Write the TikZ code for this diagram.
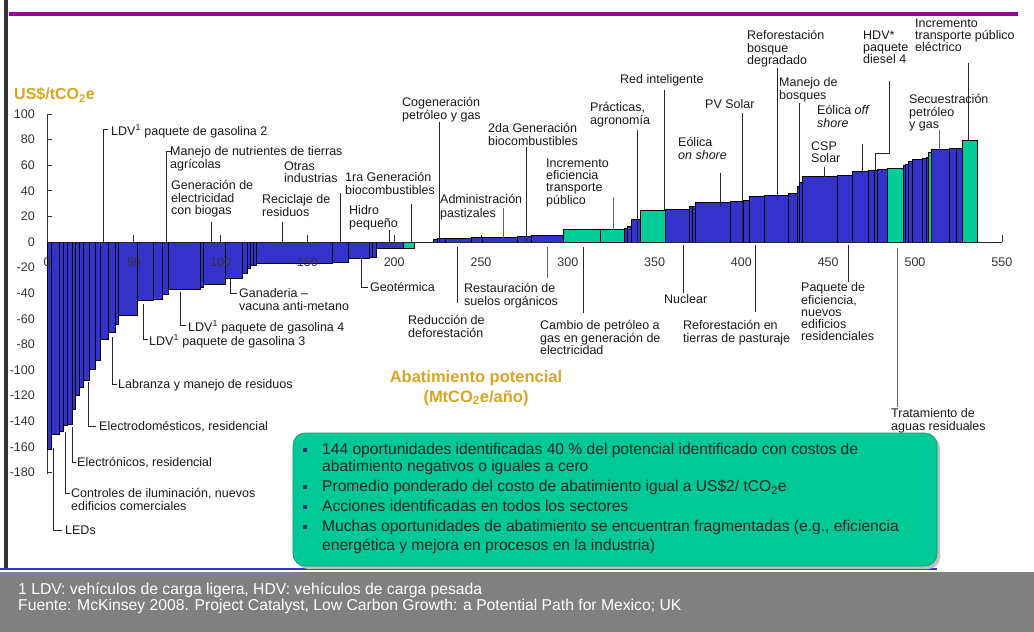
\documentclass[tikz,border=0pt]{standalone}
\usepackage{fontspec}
\setmainfont{Liberation Sans}
\definecolor{barblue}{RGB}{51,51,204}
\definecolor{bargreen}{RGB}{0,204,153}
\definecolor{boxgreen}{RGB}{0,200,150}
\definecolor{goldtxt}{RGB}{218,165,32}
\definecolor{topline}{RGB}{153,0,153}
\definecolor{footgray}{RGB}{128,128,128}
\definecolor{bulletblue}{RGB}{31,56,100}
\newcommand\lblfnt{\fontsize{12.5}{12.3}\selectfont}
\newcommand\boxfnt{\fontsize{15.6}{17}\selectfont}
\tikzset{
  lead/.style={draw=black!85, line width=0.9pt},
  lbl/.style={anchor=north west, inner sep=0pt, align=left, font=\lblfnt, text=black!90, execute at begin node=\strut},
  axl/.style={inner sep=0pt, font=\fontsize{12.5}{14}\selectfont, text=black!80},
  goldt/.style={text=goldtxt, font=\fontsize{16.5}{20}\selectfont\bfseries, inner sep=0pt},
  bul/.style={fill=bulletblue},
  boxtxt/.style={anchor=north west, inner sep=0pt, align=left, font=\boxfnt, text=black!85, execute at begin node=\strut},
  foot/.style={anchor=north west, inner sep=0pt, align=left, font=\fontsize{15.7}{16}\selectfont, text=white, execute at begin node=\strut},
}
\begin{document}
\begin{tikzpicture}[x=1pt,y=-1pt]
\useasboundingbox (0,0) rectangle (1034,632);
% frame lines
\draw[black!80, line width=3.5pt] (6,0) -- (6,568);
\draw[topline, line width=4pt] (9,14) -- (1018,14);
% footer
\fill[footgray] (0,572) rectangle (1034,632);
\draw[barblue, line width=2pt] (0,569) -- (937,569);
\node[foot] (f1) at (18,583) {1 LDV: vehículos de carga ligera, HDV: vehículos de carga pesada\\Fuente: McKinsey 2008. Project Catalyst, Low Carbon Growth: a Potential Path for Mexico; UK};
% axis ticks
\foreach \v in {50,100,...,500} \draw[black!80, line width=0.8pt] ({47+1.736*\v},242) -- ({47+1.736*\v},235);
\draw[black!80, line width=0.8pt] (1002,242) -- (1002,235);
\foreach \v in {100,80,...,-180} \draw[black!80, line width=0.8pt] (47,{242-1.28*\v}) -- (52,{242-1.28*\v});
\draw[black!80, line width=0.9pt] (47,114) -- (47,474);
% bars
\foreach \a/\b/\c/\s in {
47/51/449/barblue, 51/59/434/barblue, 59/63/431/barblue, 63/67/425/barblue, 67/72/424/barblue,
72/75/409/barblue, 75/79/395/barblue, 79/83/387/barblue, 83/89/380/barblue, 89/95/369/barblue,
95/100/360/barblue, 100/108/339/barblue, 108/115/332/barblue, 115/118/324/barblue, 118/137/315/barblue,
137/153/300/barblue, 153/162/299/barblue, 162/168/294/barblue, 168/200/289/barblue, 200/203/287/barblue,
203/225/284/barblue, 225/242/278/barblue, 242/247/273/barblue, 247/250/268/barblue, 250/253/265/barblue,
253/256/265/barblue, 256/332/263/barblue, 332/348/262/barblue, 348/369/258/barblue, 369/372/257/barblue,
372/376/257/barblue, 376/403/248/barblue, 403/414/248/bargreen,
433/437/239.5/barblue, 437/445/238.5/barblue, 445/471/238.5/barblue, 471/482/237.5/barblue,
482/517/237.5/barblue, 517/531/236.5/barblue, 531/563/235.5/barblue, 563/600/229.5/bargreen,
600/624/229.5/bargreen, 624/627/228.3/barblue, 627/631/226.7/barblue, 631/640/219/barblue,
640/665/210.7/bargreen, 665/689/209.3/barblue, 689/692/206.5/barblue, 692/695/206/barblue,
695/730/202.5/barblue, 730/743/201/barblue, 743/749/200/barblue, 749/764/196/barblue,
764/788/195.7/barblue, 788/797/193/barblue, 797/799/186/barblue, 799/802/182/barblue,
802/837/176.7/barblue, 837/852/175.7/barblue, 852/868/171.8/barblue, 868/874/170.7/barblue,
874/877/170/barblue, 877/887/169.5/barblue, 887/903/168.5/bargreen, 903/905/165.5/barblue,
905/908/164/barblue, 908/912/161/barblue, 912/922/159.2/barblue, 922/926/158/barblue,
926/928/157/barblue, 928/931/152.5/bargreen, 931/949/149.3/barblue, 949/956/148.3/barblue,
956/962/148.3/barblue, 962/977/140/bargreen}
  \filldraw[fill=\s, draw=black, line width=0.7pt] (\a,242) rectangle (\b,\c);
\draw[black!85, line width=0.9pt] (47,242) -- (1002,242);
% axis labels
\foreach \v in {100,80,...,-180} \node[axl, anchor=east] (yl\v) at (35,{242-1.28*\v}) {\v};
\foreach \v in {0,50,...,550} \node[axl] (xl\v) at ({47+1.736*\v},262) {\v};
\node[goldt, anchor=west, font=\fontsize{16}{20}\selectfont\bfseries] (ytitle) at (14,95) {US\$/tCO\textsubscript{2}e};
\node[goldt, align=center, font=\fontsize{16.5}{20}\selectfont\bfseries] (xtitle) at (476,388) {Abatimiento potencial\\(MtCO\textsubscript{2}e/año)};
% leaders top
\draw[lead] (108,129) -- (103,129) -- (103,243);
\draw[lead] (171,151) -- (166,151) -- (166,243);
\draw[lead] (211,222) -- (211,243);
\draw[lead] (340,193) -- (340,243);
\draw[lead] (282,222) -- (282,243);
\draw[lead] (411,204) -- (411,243);
\draw[lead] (389,230) -- (389,243);
\draw[lead] (439,122) -- (439,243);
\draw[lead, draw=black!60] (503,208) -- (503,238);
\draw[lead] (526,147) -- (526,243);
\draw[lead, draw=black!60] (613,197) -- (613,230);
\draw[lead] (637,130) -- (637,243);
\draw[lead] (664,90) -- (664,211);
\draw[lead] (720,173) -- (720,207);
\draw[lead] (742,113) -- (742,243);
\draw[lead] (777,68) -- (777,200);
\draw[lead] (799,103) -- (799,183);
\draw[lead] (862,144) -- (862,175);
\draw[lead] (824,167) -- (824,177);
\draw[lead] (889,81) -- (889,153) -- (875,153) -- (875,170);
\draw[lead] (968,63) -- (968,140);
\draw[lead, draw=black!60] (939,130) -- (939,150);
% leaders bottom
\draw[lead] (230,278) -- (230,293) -- (237,293);
\draw[lead] (180,292) -- (180,325) -- (186,325);
\draw[lead] (143,304) -- (143,339) -- (148,339);
\draw[lead] (112,337) -- (112,384) -- (117,384);
\draw[lead] (88,382) -- (88,426) -- (96,426);
\draw[lead] (72,427) -- (72,462) -- (76,462);
\draw[lead] (65,432) -- (65,493) -- (70,493);
\draw[lead] (53,448) -- (53,530) -- (62,530);
\draw[lead] (361,258) -- (361,287) -- (368,287);
\draw[lead] (457,247) -- (457,303);
\draw[lead, draw=black!60] (547,247) -- (547,278);
\draw[lead] (583,247) -- (583,313);
\draw[lead] (683,245) -- (683,293);
\draw[lead] (755,245) -- (755,312);
\draw[lead] (848,245) -- (848,282);
\draw[lead, draw=black!60] (897,248) -- (897,407);
% labels top
\node[lbl] (t1) at (111,124.5) {LDV\textsuperscript{1} paquete de gasolina 2};
\node[lbl] (t2) at (170,146.5) {Manejo de nutrientes de tierras\\agrícolas};
\node[lbl] (t3) at (171,180.5) {Generación de\\electricidad\\con biogas};
\node[lbl] (t4) at (284,161.5) {Otras\\industrias};
\node[lbl] (t5) at (262,194.5) {Reciclaje de\\residuos};
\node[lbl] (t6) at (345,172.5) {1ra Generación\\biocombustibles};
\node[lbl] (t7) at (349,205.5) {Hidro\\pequeño};
\node[lbl] (t8) at (402,97.5) {Cogeneración\\petróleo y gas};
\node[lbl] (t9) at (440,194.5) {Administración\\[1.5pt]pastizales};
\node[lbl] (t10) at (488,123.5) {2da Generación\\biocombustibles};
\node[lbl] (t11) at (546,158.5) {Incremento\\eficiencia\\transporte\\público};
\node[lbl] (t12) at (590,102.5) {Prácticas,\\agronomía};
\node[lbl] (t13) at (620,74.5) {Red inteligente};
\node[lbl] (t14) at (678,137.5) {Eólica\\\textit{on shore}};
\node[lbl] (t15) at (705,99.5) {PV Solar};
\node[lbl] (t16) at (747,30.5) {Reforestación\\bosque\\degradado};
\node[lbl] (t17) at (779,77.5) {Manejo de\\bosques};
\node[lbl] (t18) at (817,105.5) {Eólica \textit{off}\\\textit{shore}};
\node[lbl] (t19) at (811,141.5) {CSP\\Solar};
\node[lbl] (t20) at (863,30.5) {HDV*\\paquete\\diesel 4};
\node[lbl] (t21) at (915,18.5) {Incremento\\transporte público\\eléctrico};
\node[lbl] (t22) at (909,94.5) {Secuestración\\petróleo\\y gas};
% labels bottom
\node[lbl] (b1) at (239,288.5) {Ganaderia –\\vacuna anti-metano};
\node[lbl] (b2) at (188,320.5) {LDV\textsuperscript{1} paquete de gasolina 4};
\node[lbl] (b3) at (149,334.5) {LDV\textsuperscript{1} paquete de gasolina 3};
\node[lbl] (b4) at (118,379.5) {Labranza y manejo de residuos};
\node[lbl] (b5) at (99,421.5) {Electrodomésticos, residencial};
\node[lbl] (b6) at (77,457.5) {Electrónicos, residencial};
\node[lbl] (b7) at (71,488.5) {Controles de iluminación, nuevos\\edificios comerciales};
\node[lbl] (b8) at (65,525.5) {LEDs};
\node[lbl] (b9) at (370,282.5) {Geotérmica};
\node[lbl] (b10) at (408,315.5) {Reducción de\\deforestación};
\node[lbl] (b11) at (464,283.5) {Restauración de\\suelos orgánicos};
\node[lbl] (b12) at (540,320.5) {Cambio de petróleo a\\gas en generación de\\electricidad};
\node[lbl] (b13) at (664,294.5) {Nuclear};
\node[lbl] (b14) at (683,320.5) {Reforestación en\\tierras de pasturaje};
\node[lbl] (b15) at (801,282.5) {Paquete de\\eficiencia,\\nuevos\\edificios\\residenciales};
\node[lbl] (b16) at (891,408.5) {Tratamiento de\\aguas residuales};
% green box
\fill[black!25, rounded corners=12pt] (296,436) rectangle (940,569);
\filldraw[fill=boxgreen, draw=boxgreen!80!black, line width=0.6pt, rounded corners=12pt] (293,433) rectangle (937,566);
\foreach \yy in {449,486,506,526} \fill[bul] (303,\yy-1.5) rectangle (307,\yy+2.5);
\node[boxtxt] (g1) at (322,442.5) {144 oportunidades identificadas 40 \% del potencial identificado con costos de\\abatimiento negativos o iguales a cero};
\node[boxtxt] (g2) at (322,479.5) {Promedio ponderado del costo de abatimiento igual a US\$2/ tCO\textsubscript{2}e};
\node[boxtxt] (g3) at (322,499.5) {Acciones identificadas en todos los sectores};
\node[boxtxt] (g4) at (322,519.5) {Muchas oportunidades de abatimiento se encuentran fragmentadas (e.g., eficiencia\\[2pt]energética y mejora en procesos en la industria)};
\end{tikzpicture}
\end{document}
